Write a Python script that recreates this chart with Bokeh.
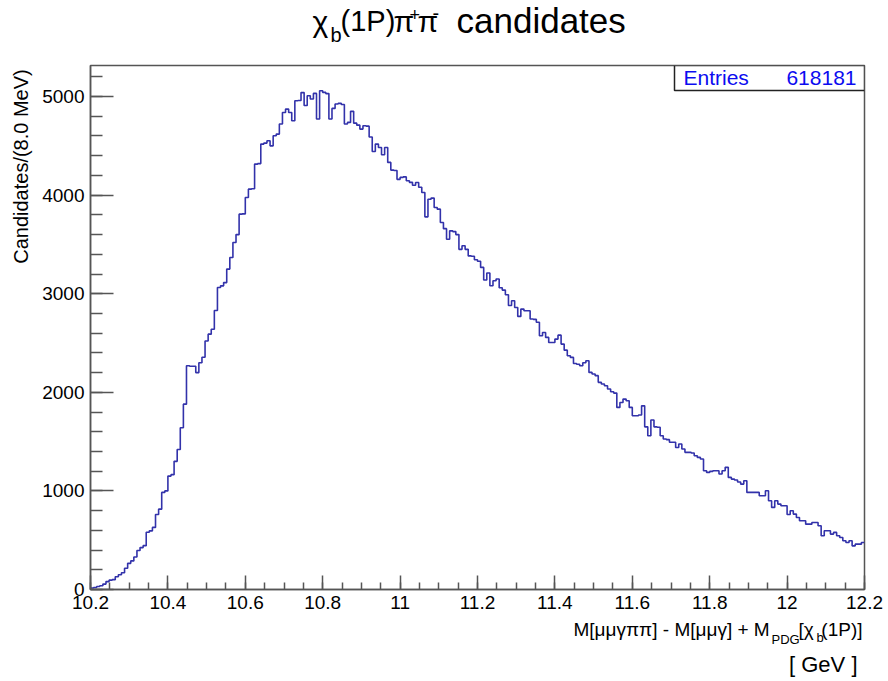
import numpy as np
from bokeh.plotting import figure
from bokeh.layouts import column, row
from bokeh.models import Range1d, FixedTicker, Label, BoxAnnotation
from bokeh.embed import file_html
from bokeh.resources import INLINE

# ---------------- data ----------------
x_min, x_max, bin_width = 10.2, 12.2, 0.008
y_top = 5315
counts = [
    15, 20, 30, 38, 55, 80, 95, 100, 130, 150,
    170, 215, 265, 290, 330, 395, 425, 445, 580, 595,
    630, 760, 815, 985, 1000, 1150, 1165, 1300, 1420, 1640,
    1880, 2270, 2265, 2265, 2200, 2300, 2355, 2520, 2590, 2640,
    2830, 3063, 3080, 3113, 3250, 3367, 3520, 3600, 3807, 3810,
    3976, 4061, 4065, 4315, 4320, 4518, 4528, 4552, 4500, 4602,
    4619, 4721, 4839, 4873, 4839, 4755, 4958, 4960, 5040, 4910,
    5008, 4975, 5032, 4772, 5059, 5042, 5030, 4772, 4880, 4924,
    4931, 4920, 4721, 4738, 4850, 4730, 4710, 4670, 4704, 4700,
    4590, 4443, 4518, 4484, 4409, 4484, 4332, 4254, 4250, 4160,
    4180, 4185, 4146, 4130, 4100, 4129, 4080, 4027, 3780, 3959,
    3970, 3875, 3858, 3722, 3660, 3553, 3638, 3630, 3600, 3450,
    3486, 3450, 3384, 3380, 3345, 3330, 3267, 3140, 3210, 3081,
    3132, 3149, 3060, 3037, 2990, 2880, 2929, 2861, 2770, 2844,
    2827, 2827, 2743, 2740, 2710, 2574, 2607, 2557, 2506, 2506,
    2540, 2580, 2489, 2428, 2371, 2354, 2293, 2285, 2269, 2300,
    2320, 2202, 2186, 2169, 2101, 2084, 2067, 2033, 2006, 1992,
    1847, 1897, 1931, 1914, 1847, 1763, 1763, 1770, 1863, 1650,
    1560, 1720, 1650, 1645, 1560, 1527, 1520, 1493, 1493, 1440,
    1476, 1425, 1391, 1391, 1384, 1357, 1340, 1323, 1205, 1188,
    1198, 1205, 1205, 1171, 1205, 1239, 1137, 1120, 1110, 1090,
    1069, 1103, 985, 985, 985, 985, 951, 951, 1001, 900,
    833, 900, 866, 850, 850, 760, 799, 765, 731, 697,
    697, 663, 663, 680, 680, 646, 545, 596, 596, 562,
    579, 545, 528, 494, 477, 494, 443, 460, 460, 477,
]
assert len(counts) == 250

x_ticks = [10.2, 10.4, 10.6, 10.8, 11.0, 11.2, 11.4, 11.6, 11.8, 12.0, 12.2]
x_tick_labels = ["10.2", "10.4", "10.6", "10.8", "11", "11.2", "11.4", "11.6", "11.8", "12", "12.2"]
y_ticks = [0, 1000, 2000, 3000, 4000, 5000]
y_tick_labels = ["0", "1000", "2000", "3000", "4000", "5000"]
entries_label = "Entries"
entries_value = "618181"
y_title = "Candidates/(8.0 MeV)"
x_unit = "[ GeV ]"

# ---------------- layout (absolute page pixels) ----------------
W, H = 888, 681
FL, FR, FT, FB = 90, 864, 65, 589      # plot frame in page pixels
TOP_H = 60                              # title strip height
BOT_Y = 618                             # top of x-title strip
YL_W = 38                               # width of y-title strip
FONT = "Liberation Sans"
HIST_COLOR = "#3232aa"
AX_COLOR = "#555555"
BOX_BLUE = "#0c0cf0"
BASE_SHIFT = 0.38                       # em offset so that py is the visual baseline


def text_strip(width, height, y0):
    """A blank figure whose data coordinates are page pixels (y downwards)."""
    f = figure(width=width, height=height, output_backend="svg", toolbar_location=None,
               x_range=Range1d(0, width), y_range=Range1d(y0 + height, y0),
               x_axis_type=None, y_axis_type=None, min_border=0)
    f.outline_line_color = None
    f.xgrid.visible = False
    f.ygrid.visible = False
    f.background_fill_color = "white"
    f.border_fill_color = "white"
    return f


def lab(f, text, px, py, size, align="left", vertical=False, color="black"):
    if vertical:
        x, y, ang = px - BASE_SHIFT * size, py, np.pi / 2
    else:
        x, y, ang = px, py - BASE_SHIFT * size, 0.0
    f.add_layout(Label(x=x, y=y, text=text, text_font=FONT,
                       text_font_size=f"{size}px", text_align=align,
                       text_baseline="alphabetic", angle=ang, text_color=color))


# ----- main histogram figure -----
main_w = W - YL_W
main_h = BOT_Y - TOP_H
p = figure(width=main_w, height=main_h, output_backend="svg", toolbar_location=None,
           x_range=Range1d(x_min, x_max), y_range=Range1d(0, y_top),
           min_border_left=FL - YL_W, min_border_right=W - FR,
           min_border_top=FT - TOP_H, min_border_bottom=BOT_Y - FB)
p.background_fill_color = "white"
p.border_fill_color = "white"
p.outline_line_color = AX_COLOR
p.outline_line_width = 1.5
p.xgrid.visible = False
p.ygrid.visible = False

edges = np.round(x_min + bin_width * np.arange(len(counts) + 1), 4)
ys = list(counts) + [counts[-1]]
p.step(x=edges, y=ys, mode="after", line_color=HIST_COLOR, line_width=1.6)

xa = p.xaxis[0]
xa.ticker = FixedTicker(ticks=x_ticks,
                        minor_ticks=list(np.round(np.arange(x_min, x_max + 1e-9, 0.05), 3)))
xa.major_label_overrides = {t: l for t, l in zip(x_ticks, x_tick_labels)}
xa.major_tick_in = 14
xa.major_tick_out = 0
xa.minor_tick_in = 7
xa.minor_tick_out = 0
xa.major_label_standoff = 6
ya = p.yaxis[0]
ya.ticker = FixedTicker(ticks=y_ticks, minor_ticks=list(range(0, 5400, 200)))
ya.major_label_overrides = {t: l for t, l in zip(y_ticks, y_tick_labels)}
ya.major_tick_in = 23
ya.major_tick_out = 0
ya.minor_tick_in = 12
ya.minor_tick_out = 0
ya.major_label_standoff = 6
for ax in (xa, ya):
    ax.axis_line_color = AX_COLOR
    ax.axis_line_width = 1.5
    ax.major_tick_line_color = AX_COLOR
    ax.minor_tick_line_color = AX_COLOR
    ax.major_tick_line_width = 1.5
    ax.minor_tick_line_width = 1.5
    ax.major_label_text_font = FONT
    ax.major_label_text_font_size = "19px"
    ax.major_label_text_color = "black"


def gx(px):
    return x_min + (px - FL) / (FR - FL) * (x_max - x_min)


def gy(py):
    return (FB - py) / (FB - FT) * y_top


# stats box (top-right corner of the frame)
p.add_layout(BoxAnnotation(left=gx(674), right=x_max, top=y_top, bottom=gy(90),
                           fill_color="white", fill_alpha=1.0,
                           line_color="#222222", line_alpha=1.0, line_width=1.5))
p.add_layout(Label(x=gx(683), y=gy(85 - BASE_SHIFT * 21), text=entries_label,
                   text_font=FONT, text_font_size="21px", text_color=BOX_BLUE,
                   text_baseline="alphabetic"))
p.add_layout(Label(x=gx(856), y=gy(85 - BASE_SHIFT * 21), text=entries_value,
                   text_font=FONT, text_font_size="21px", text_color=BOX_BLUE,
                   text_align="right", text_baseline="alphabetic"))

# ----- title strip: chi_b(1P) pi+ pi- candidates -----
t = text_strip(W, TOP_H, 0)
lab(t, "χ", 312, 32, 30)
lab(t, "b", 330, 42, 20)
lab(t, "(1P)", 340, 32, 29)
lab(t, "π", 393, 32, 30)
lab(t, "+", 409, 21, 18)
lab(t, "π", 417, 32, 30)
lab(t, "-", 432, 20, 20)
lab(t, "candidates", 456, 33, 35)

# ----- y-title strip -----
yl = text_strip(YL_W, main_h, TOP_H)
lab(yl, y_title, 28, 64, 20, align="right", vertical=True)

# ----- x-title strip -----
xl = text_strip(W, H - BOT_Y, BOT_Y)
lab(xl, "M[μμγππ] - M[μμγ] + M", 573, 636.5, 19)
lab(xl, "PDG", 771, 644, 13)
lab(xl, "[χ", 798, 636.5, 19)
lab(xl, "b", 816, 642, 13)
lab(xl, "(1P)]", 862, 636.5, 19, align="right")
lab(xl, x_unit, 857, 672, 22, align="right")

layout = column(t, row(yl, p, spacing=0), xl, spacing=0)
open("out.html", "w").write(file_html(layout, INLINE))
